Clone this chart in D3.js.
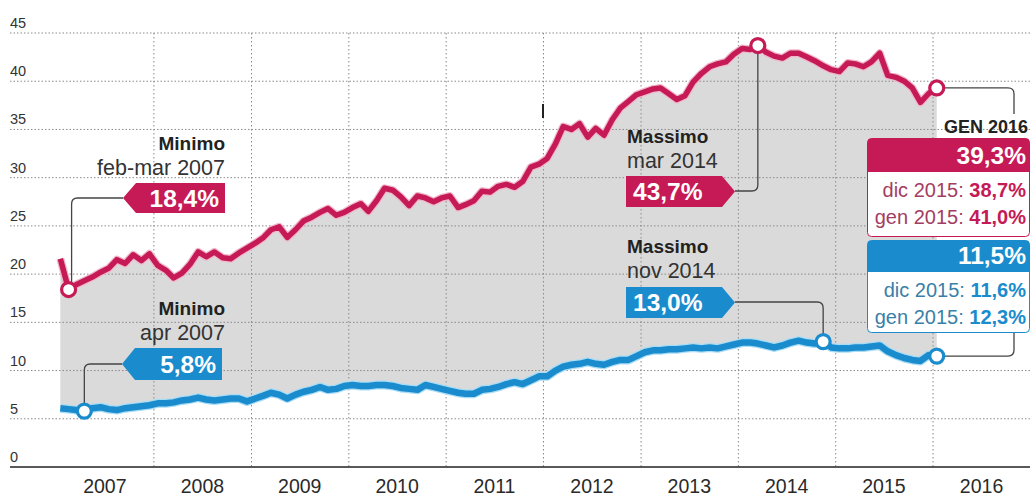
<html>
  <head>
    <title>Disoccupazione</title>
    <meta charset="utf-8">
    <script src="https://d3js.org/d3.v7.min.js"></script>
    <style>
      body { margin: 0; background: #fff; }
      text { font-family: "Liberation Sans", Arial, sans-serif; }
    </style>
  </head>
  <body>
    <div id="viz"></div>
<script>
// monthly values, jan 2007 .. jan 2016
const years = [2007, 2008, 2009, 2010, 2011, 2012, 2013, 2014, 2015, 2016];
const yTicks = [0, 5, 10, 15, 20, 25, 30, 35, 40, 45];

const giovani = [
  21.6, 18.4, 18.9, 19.3, 19.7, 20.2, 20.6, 21.5, 21.1, 22.0, 21.4, 22.1,
  20.9, 20.4, 19.6, 20.1, 21.0, 22.3, 21.8, 22.3, 21.7, 21.6, 22.2, 22.7,
  23.2, 23.8, 24.6, 24.9, 23.8, 24.6, 25.5, 25.9, 26.4, 26.8, 26.1, 26.4,
  26.9, 27.3, 26.5, 27.6, 28.9, 28.7, 28.0, 27.1, 28.1, 27.9, 27.5, 27.9,
  28.1, 26.9, 27.2, 27.6, 28.6, 28.5, 29.1, 29.3, 29.0, 29.6, 31.1, 31.4,
  32.0, 33.5, 35.3, 35.0, 35.6, 34.2, 35.1, 34.4, 36.0, 37.2, 37.9, 38.6,
  38.9, 39.2, 39.3, 38.7, 38.1, 38.5, 39.9, 40.8, 41.5, 41.8, 42.0, 42.8,
  43.4, 43.3, 43.7, 43.0, 42.6, 42.4, 42.9, 42.9, 42.5, 42.1, 41.6, 41.2,
  41.0, 41.9, 41.8, 41.5, 42.0, 42.9, 40.6, 40.4, 40.0, 39.3, 37.8, 38.7,
  39.3
];

const totale = [
  6.1, 6.0, 5.9, 5.8, 6.1, 6.2, 6.0, 5.9, 6.1, 6.2, 6.3, 6.4,
  6.6, 6.6, 6.7, 6.9, 7.0, 7.2, 7.0, 6.9, 7.0, 7.1, 7.1, 6.8,
  7.1, 7.4, 7.7, 7.5, 7.1, 7.5, 7.8, 8.0, 8.3, 8.0, 8.1, 8.4,
  8.5, 8.4, 8.4, 8.5, 8.5, 8.4, 8.2, 8.1, 8.0, 8.5, 8.3, 8.1,
  7.9, 7.7, 7.6, 7.6, 8.0, 8.1, 8.3, 8.6, 8.8, 8.6, 9.0, 9.4,
  9.4, 10.0, 10.4, 10.6, 10.7, 10.9, 10.7, 10.6, 10.9, 11.1, 11.1, 11.5,
  11.9, 12.1, 12.1, 12.2, 12.2, 12.3, 12.4, 12.3, 12.4, 12.3, 12.5, 12.7,
  12.9, 12.9, 12.8, 12.6, 12.4, 12.6, 12.9, 13.1, 12.9, 12.8, 13.0, 12.4,
  12.3, 12.3, 12.4, 12.4, 12.5, 12.6, 12.0, 11.6, 11.3, 11.1, 11.0, 11.6,
  11.5
];

const RED = "#c51a55", BLUE = "#1a8ccd", GRAY = "#dadada";

const months = giovani.map((_, i) => new Date(2007, i, 15));
const rows = months.map((d, i) => ({ date: d, g: giovani[i], t: totale[i] }));

const W = 1034, H = 497;
const x = d3.scaleTime()
  .domain([new Date(2007, 0, 1), new Date(2017, 0, 1)])
  .range([56.6, 1030.6]);
const y = d3.scaleLinear().domain([0, 45]).range([467, 33]);

const svg = d3.select("#viz").append("svg")
  .attr("width", W).attr("height", H);

// band between the two series
svg.append("path")
  .datum(rows)
  .attr("fill", GRAY)
  .attr("d", d3.area().x(d => x(d.date)).y0(d => y(d.t)).y1(d => y(d.g)));

// grid
svg.append("g").selectAll("line").data(yTicks.slice(1)).join("line")
  .attr("x1", 10).attr("x2", 1030)
  .attr("y1", d => y(d)).attr("y2", d => y(d))
  .attr("stroke", "#8a8a8a").attr("stroke-width", 1)
  .attr("stroke-dasharray", "1.5,2");

svg.append("g").selectAll("line").data(years.slice(1)).join("line")
  .attr("x1", d => x(new Date(d, 0, 1))).attr("x2", d => x(new Date(d, 0, 1)))
  .attr("y1", y(45)).attr("y2", y(0))
  .attr("stroke", "#8a8a8a").attr("stroke-width", 1)
  .attr("stroke-dasharray", "1.5,2.5");

svg.append("line")
  .attr("x1", 10).attr("x2", 1030).attr("y1", y(0)).attr("y2", y(0))
  .attr("stroke", "#222").attr("stroke-width", 1.6);

svg.append("g").selectAll("text").data(yTicks).join("text")
  .attr("x", 10).attr("y", d => y(d) - 5)
  .attr("font-size", 14.5).attr("fill", "#333")
  .text(d => d);

svg.append("g").selectAll("text").data(years).join("text")
  .attr("x", d => x(new Date(d, 6, 1)))
  .attr("y", 493)
  .attr("text-anchor", "middle")
  .attr("font-size", 19.5).attr("fill", "#2a2a2a")
  .text(d => d);

// stray mark
svg.append("line").attr("x1", 543).attr("x2", 543).attr("y1", 104).attr("y2", 118)
  .attr("stroke", "#222").attr("stroke-width", 2);

// lines
function drawLine(key, color, halo, w) {
  const ln = d3.line().x(d => x(d.date)).y(d => y(d[key]));
  svg.append("path").datum(rows).attr("d", ln).attr("fill", "none")
    .attr("stroke", halo).attr("stroke-width", w + 2.5).attr("stroke-linejoin", "round");
  svg.append("path").datum(rows).attr("d", ln).attr("fill", "none")
    .attr("stroke", color).attr("stroke-width", w).attr("stroke-linejoin", "round");
}
drawLine("g", RED, "#f0b8cb", 5.5);
drawLine("t", BLUE, "#a9dcf5", 6.5);

// connectors
const conn = svg.append("g").attr("fill", "none").attr("stroke", "#444").attr("stroke-width", 1.3);
const rMin = rows[1], bMin = rows[3], rMax = rows[86], bMax = rows[94], last = rows[108];

conn.append("path").attr("d", `M${x(rMin.date) + 3},${y(rMin.g) - 7} V204 Q${x(rMin.date) + 3},198 ${x(rMin.date) + 9},198 H123`);
conn.append("path").attr("d", `M${x(bMin.date)},${y(bMin.t) - 7} V370 Q${x(bMin.date)},364 ${x(bMin.date) + 6},364 H122`);
conn.append("path").attr("d", `M${x(rMax.date)},${y(rMax.g) + 7} V185 Q${x(rMax.date)},191 ${x(rMax.date) - 6},191 H735`);
conn.append("path").attr("d", `M735,302 H${x(bMax.date) - 6} Q${x(bMax.date)},302 ${x(bMax.date)},308 V${y(bMax.t) - 7}`);
conn.append("path").attr("d", `M${x(last.date) + 7},${y(last.g)} H1008 Q1014,${y(last.g)} 1014,${y(last.g) + 6} V114`);
conn.append("path").attr("d", `M${x(last.date) + 7},${y(last.t)} H1008 Q1014,${y(last.t)} 1014,${y(last.t) - 6} V332`);

// markers
const marks = [
  { d: rMin.date, v: rMin.g, c: RED }, { d: rMax.date, v: rMax.g, c: RED }, { d: last.date, v: last.g, c: RED },
  { d: bMin.date, v: bMin.t, c: BLUE }, { d: bMax.date, v: bMax.t, c: BLUE }, { d: last.date, v: last.t, c: BLUE }
];
svg.append("g").selectAll("circle").data(marks).join("circle")
  .attr("cx", d => x(d.d)).attr("cy", d => y(d.v)).attr("r", 7)
  .attr("fill", "#fff").attr("stroke", d => d.c).attr("stroke-width", 3.2);

// labels
function title(tx, ty, anchor, bold, sub) {
  svg.append("text").attr("x", tx).attr("y", ty).attr("text-anchor", anchor)
    .attr("font-size", 19).attr("font-weight", "bold").attr("fill", "#222").text(bold);
  svg.append("text").attr("x", tx).attr("y", ty + 25).attr("text-anchor", anchor)
    .attr("font-size", 21.5).attr("fill", "#333").text(sub);
}
function tag(x0, x1, y0, y1, dir, color, label) {
  const m = (y0 + y1) / 2;
  const pts = dir === "left"
    ? [[x0, m], [x0 + 13, y0], [x1, y0], [x1, y1], [x0 + 13, y1]]
    : [[x0, y0], [x1 - 13, y0], [x1, m], [x1 - 13, y1], [x0, y1]];
  svg.append("polygon").attr("points", pts.map(p => p.join(",")).join(" ")).attr("fill", color);
  svg.append("text")
    .attr("x", dir === "left" ? x1 - 6 : x0 + 7).attr("y", m + 8.5)
    .attr("text-anchor", dir === "left" ? "end" : "start")
    .attr("font-size", 24.5).attr("font-weight", "bold").attr("fill", "#fff").text(label);
}

title(225, 150, "end", "Minimo", "feb-mar 2007");
tag(123, 225, 183, 213, "left", RED, "18,4%");
title(225, 315, "end", "Minimo", "apr 2007");
tag(122, 222, 348, 380, "left", BLUE, "5,8%");
title(627, 143, "start", "Massimo", "mar 2014");
tag(626, 735, 176, 207, "right", RED, "43,7%");
title(627, 253, "start", "Massimo", "nov 2014");
tag(626, 735, 287, 318, "right", BLUE, "13,0%");

// last value boxes
svg.append("text").attr("x", 1028).attr("y", 133).attr("text-anchor", "end")
  .attr("font-size", 18).attr("font-weight", "bold").attr("fill", "#222").text("GEN 2016");

function valueBox(y0, y1, head, color, soft, big, lines) {
  svg.append("rect").attr("x", 867.5).attr("y", y0 + 0.5).attr("width", 162).attr("height", y1 - y0)
    .attr("rx", 4).attr("fill", "#fff").attr("stroke", color).attr("stroke-width", 1);
  svg.append("path")
    .attr("d", `M867.5,${head} V${y0 + 4.5} Q867.5,${y0 + 0.5} 871.5,${y0 + 0.5} H1025.5 Q1029.5,${y0 + 0.5} 1029.5,${y0 + 4.5} V${head} Z`)
    .attr("fill", color);
  svg.append("text").attr("x", 1026).attr("y", head - 8).attr("text-anchor", "end")
    .attr("font-size", 24.5).attr("font-weight", "bold").attr("fill", "#fff").text(big);
  lines.forEach((l, i) => {
    const t = svg.append("text").attr("x", 1026).attr("y", head + 25 + i * 26.5)
      .attr("text-anchor", "end").attr("font-size", 20);
    t.append("tspan").attr("fill", soft).text(l[0] + " ");
    t.append("tspan").attr("fill", color).attr("font-weight", "bold").text(l[1]);
  });
}
valueBox(138, 236, 172, RED, "#a33d61", "39,3%", [["dic 2015:", "38,7%"], ["gen 2015:", "41,0%"]]);
valueBox(240, 332, 272, BLUE, "#3a7fa8", "11,5%", [["dic 2015:", "11,6%"], ["gen 2015:", "12,3%"]]);
</script>
  </body>
</html>
